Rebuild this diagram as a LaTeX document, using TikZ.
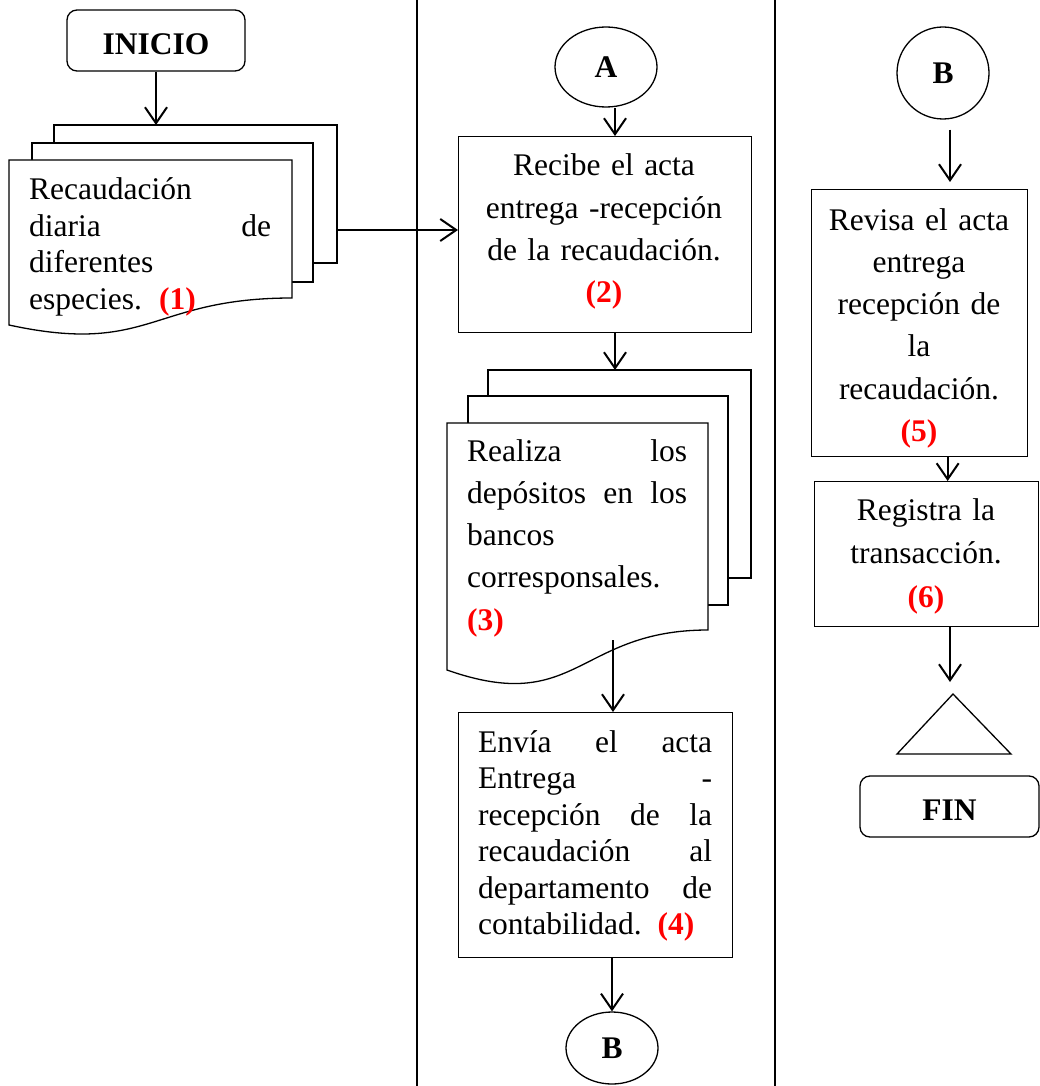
\documentclass[tikz,border=0pt]{standalone}
\usepackage{fontspec}
\setmainfont{Liberation Serif}
\usetikzlibrary{arrows.meta,shapes.geometric}
% a line spread over the given width; words are separated by \hfill
\newcommand\jline[2]{\leavevmode\hbox to #1{#2}}
\newcommand\num[1]{{\color{red}\bfseries(#1)}}
% text set a little lower while keeping its box unchanged
\newcommand\lowered[1]{\raisebox{-3.5pt}[\height][\depth]{#1}}
\begin{document}
\begin{tikzpicture}[x=1pt,y=-1pt,
  proc/.style={draw, line width=1.3pt, anchor=north west, inner sep=0pt},
  term/.style={draw, line width=1.3pt, rounded corners=10pt, inner sep=0pt,
    font=\fontsize{31.5}{36}\selectfont\bfseries},
  conn/.style={draw, line width=1.3pt, inner sep=0pt, ellipse,
    font=\fontsize{31.5}{36}\selectfont\bfseries},
  sheet/.style={line width=1.3pt, line join=miter},
  arr/.style={line width=2pt, -{Straight Barb[length=16pt,width=22pt]}},
  tight/.style={inner sep=0pt, anchor=base west, align=left,
    font=\fontsize{31.5}{36.5}\selectfont},
  loose/.style={inner sep=0pt, anchor=base, align=center,
    font=\fontsize{31.5}{42.3}\selectfont}]
\useasboundingbox (0,0) rectangle (1040,1086);

% swimlane separators
\draw[line width=2pt] (417,0) -- (417,1086);
\draw[line width=2pt] (775,0) -- (775,1086);

% ---- first lane ----
\node[term, minimum width=178pt, minimum height=61pt] (ini) at (156,40.5) {\lowered{INICIO}};

% stacked documents (1)
\draw[sheet] (54,143) -- (54,125) -- (337,125) -- (337,263) -- (313,263);
\draw[sheet] (32,160) -- (32,143) -- (313,143) -- (313,282) -- (292,282);
\draw[sheet, fill=white] (9,160) -- (292,160) -- (292,298)
  .. controls (150.5,298) and (150.5,355.7) .. (9,325) -- cycle;
\coordinate (d1top) at (156,125);
\coordinate (d1out) at (337,230);
\node[tight, text width=242pt] (t1) at (29,200)
  {Recaudación\\ \jline{242pt}{diaria\hfill de}\\ diferentes\\ especies.\hspace{17pt}\num{1}};

% ---- second lane ----
\node[conn, minimum width=102pt, minimum height=80pt] (A) at (606,67) {A};
\node[proc, minimum width=293pt, minimum height=196pt] (b2) at (458,136) {};
\node[loose, text width=290pt] (t2) at (604,176)
  {Recibe el acta\\ entrega -recepción\\ de la recaudación.\\ \num{2}};

% stacked documents (3)
\draw[sheet] (488,396) -- (488,370) -- (751,370) -- (751,578) -- (728,578);
\draw[sheet] (468,423) -- (468,396) -- (728,396) -- (728,605) -- (708,605);
\draw[sheet, fill=white] (447,423) -- (708,423) -- (708,630)
  .. controls (577.5,630) and (577.5,716) .. (447,670) -- cycle;
\coordinate (d3top) at (615,370);
\coordinate (d3out) at (613,640);
\node[tight, text width=220pt, font=\fontsize{31.5}{42.3}\selectfont] (t3) at (467,461)
  {\jline{220pt}{Realiza\hfill los}\\ \jline{220pt}{depósitos\hfill en\hfill los}\\
   bancos\\ corresponsales.\\ \num{3}};

\node[proc, minimum width=274pt, minimum height=245pt] (b4) at (458,712) {};
\node[tight, text width=234pt] (t4) at (478,752)
  {\jline{234pt}{Envía\hfill el\hfill acta}\\ \jline{234pt}{Entrega\hfill -}\\
   \jline{234pt}{recepción\hfill de\hfill la}\\ \jline{234pt}{recaudación\hfill al}\\
   \jline{234pt}{departamento\hfill de}\\ contabilidad. \num{4}};

\node[conn, minimum width=92pt, minimum height=72pt] (Bb) at (612,1048) {B};

% ---- third lane ----
\node[conn, minimum width=92pt, minimum height=92pt] (Bt) at (943,73) {B};
\node[proc, minimum width=216pt, minimum height=267pt] (b5) at (811,189) {};
\node[loose, text width=210pt] (t5) at (919,230)
  {Revisa el acta\\ entrega\\ recepción de\\ la\\ recaudación.\\ \num{5}};
\node[proc, minimum width=224pt, minimum height=145pt] (b6) at (814,481) {};
\node[loose, text width=215pt, font=\fontsize{31.5}{43.5}\selectfont] (t6) at (926,520)
  {Registra la\\ transacción.\\ \num{6}};

% off-page end marker
\draw[line width=1.3pt] (953,694) -- (1011,754) -- (897,754) -- cycle;
\coordinate (tri) at (950,694);
\node[term, minimum width=179pt, minimum height=61pt] (fin) at (949.5,806.5) {\lowered{FIN}};

% ---- connectors ----
\draw[arr] (ini.south) -- (d1top);
\draw[arr] (d1out) -- (d1out -| b2.west);
\draw[arr] ([xshift=9pt]A.south) -- ([xshift=9pt]A.south |- b2.north);
\draw[arr] (d3top |- b2.south) -- (d3top);
\draw[arr] (d3out) -- (d3out |- b4.north);
\draw[arr] (Bb.north |- b4.south) -- (Bb.north);
\draw[arr, shorten <=10pt, shorten >=7pt] ([xshift=7pt]Bt.south) -- ([xshift=7pt]Bt.south |- b5.north);
\draw[arr] ([xshift=28pt]b5.south) -- ([xshift=28pt]b5.south |- b6.north);
\draw[arr, shorten >=12pt] (tri |- b6.south) -- (tri);
\end{tikzpicture}
\end{document}
